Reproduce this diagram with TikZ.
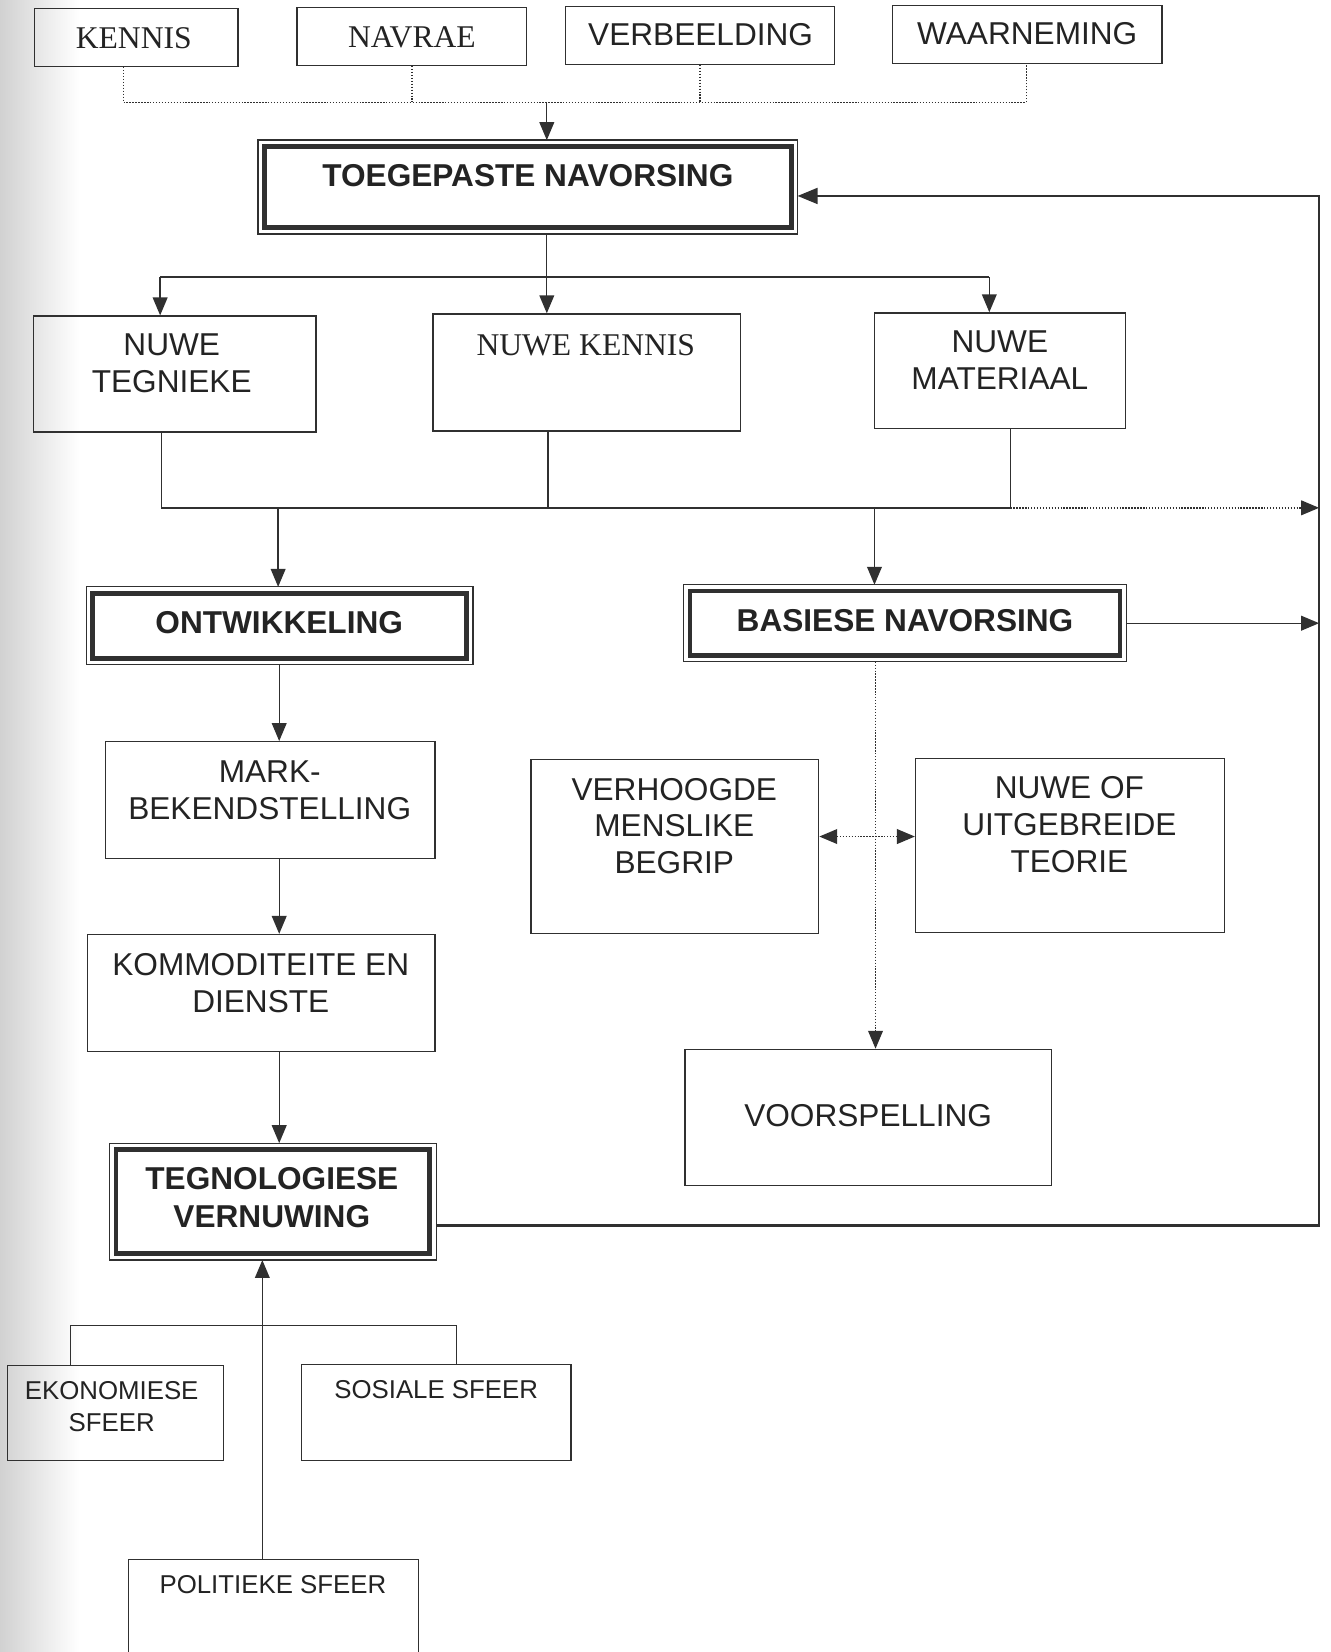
\documentclass[tikz,border=0pt]{standalone}
\usepackage{fontspec}
\setmainfont{Liberation Sans}
\newfontfamily\serifface{Liberation Serif}
\usetikzlibrary{arrows.meta,calc}
\definecolor{inkc}{HTML}{303030}
\definecolor{txtc}{HTML}{232323}
\begin{document}
\begin{tikzpicture}[x=1pt,y=-1pt,
  box/.style={draw=inkc, line width=1.3pt, inner sep=0pt},
  dbox/.style={draw=inkc, line width=4.5pt, inner sep=0pt, outer sep=6pt},
  thinrim/.style={draw=inkc, line width=1.2pt},
  lbl/.style={text=txtc, font=\fontsize{30}{35}\selectfont, align=center, inner sep=0pt},
  serlbl/.style={lbl, font=\serifface\fontsize{30}{35}\selectfont},
  slbl/.style={text=txtc, font=\fontsize{24.5}{30}\selectfont, align=center, inner sep=0pt},
  blbl/.style={text=txtc, font=\fontsize{30}{36}\selectfont\bfseries, align=center, inner sep=0pt},
  conn/.style={draw=inkc, line width=1.3pt},
  dconn/.style={conn, dash pattern=on 1.3pt off 1.5pt},
  arr/.style={conn, -{Triangle[length=17pt,width=14pt]}},
  darr/.style={dconn, -{Triangle[length=17pt,width=14pt]}},
  ddarr/.style={dconn, {Triangle[length=17pt,width=14pt]}-{Triangle[length=17pt,width=14pt]}},
  loopline/.style={draw=inkc, line width=2.3pt, -{Triangle[length=19pt,width=15pt]}}
]
\useasboundingbox (0,0) rectangle (1263,1568);
\clip (0,0) rectangle (1263,1568);
\fill[white] (0,0) rectangle (1263,1568);
\shade[left color=black!18, right color=white] (0,0) rectangle (75,1568);

% top row
\node[box, minimum width=193pt, minimum height=55pt] (kennis) at (129.5,35.5) {};
\node[serlbl] (kennis-t) at (127,36) {KENNIS};
\node[box, minimum width=218pt, minimum height=55pt] (navrae) at (391,34.5) {};
\node[serlbl] (navrae-t) at (391,35) {NAVRAE};
\node[box, minimum width=255pt, minimum height=55pt] (verb) at (664.5,33.5) {};
\node[lbl] (verb-t) at (665,33) {VERBEELDING};
\node[box, minimum width=256pt, minimum height=55pt] (waar) at (975,32.5) {};
\node[lbl] (waar-t) at (975,32) {WAARNEMING};

% toegepaste
\node[dbox, minimum width=500pt, minimum height=77pt] (toeg) at (501,177.5) {};
\draw[thinrim] (toeg.north west) rectangle (toeg.south east);
\node[blbl] (toeg-t) at (501,167) {TOEGEPASTE NAVORSING};

% second row
\node[box, minimum width=268pt, minimum height=110pt] (tegn) at (166,355) {};
\node[lbl] (tegn-t) at (163,345) {NUWE\\TEGNIEKE};
\node[box, minimum width=292pt, minimum height=111pt] (nken) at (557,353.5) {};
\node[serlbl] (nken-t) at (556,328) {NUWE KENNIS};
\node[box, minimum width=238pt, minimum height=110pt] (mat) at (949,352) {};
\node[lbl] (mat-t) at (949,342) {NUWE\\MATERIAAL};

% ontwikkeling / basiese
\node[dbox, minimum width=355pt, minimum height=62pt] (ontw) at (265.5,594) {};
\draw[thinrim] (ontw.north west) rectangle (ontw.south east);
\node[blbl] (ontw-t) at (265,591) {ONTWIKKELING};
\node[dbox, minimum width=408pt, minimum height=61pt] (bas) at (859,591.5) {};
\draw[thinrim] (bas.north west) rectangle (bas.south east);
\node[blbl] (bas-t) at (859,589) {BASIESE NAVORSING};

% left column
\node[box, minimum width=313pt, minimum height=111pt] (mark) at (256.5,759.5) {};
\node[lbl] (mark-t) at (256,750) {MARK-\\BEKENDSTELLING};
\node[box, minimum width=330pt, minimum height=111pt] (komm) at (248,942.5) {};
\node[lbl] (komm-t) at (247.5,933) {KOMMODITEITE EN\\DIENSTE};
\node[dbox, minimum width=298pt, minimum height=99pt] (tegv) at (259,1140.5) {};
\draw[thinrim] (tegv.north west) rectangle (tegv.south east);
\node[blbl] (tegv-t) at (258,1137) {TEGNOLOGIESE\\VERNUWING};

% right column
\node[box, minimum width=273pt, minimum height=165pt] (verh) at (640.5,803.5) {};
\node[lbl] (verh-t) at (640,784) {VERHOOGDE\\MENSLIKE\\BEGRIP};
\node[box, minimum width=293pt, minimum height=165pt] (teor) at (1015.5,802.5) {};
\node[lbl] (teor-t) at (1015,783) {NUWE OF\\UITGEBREIDE\\TEORIE};
\node[box, minimum width=348pt, minimum height=129pt] (voor) at (824,1060.5) {};
\node[lbl] (voor-t) at (824,1059) {VOORSPELLING};

% spheres
\node[box, minimum width=205pt, minimum height=90pt] (ekon) at (109.5,1341) {};
\node[slbl] (ekon-t) at (106,1335) {EKONOMIESE\\SFEER};
\node[box, minimum width=256pt, minimum height=91pt] (sos) at (414,1340.5) {};
\node[slbl] (sos-t) at (414,1319) {SOSIALE SFEER};
\node[box, minimum width=275pt, minimum height=120pt] (pol) at (259.5,1540) {};
\node[slbl] (pol-t) at (259,1504) {POLITIEKE SFEER};

% ---- connectors ----
\coordinate (tl) at (117,97);
\coordinate (tr) at (974,97);
\coordinate (tm) at (519,97);
\draw[dconn] (kennis.south -| tl) -- (tl) -- (tr) -- (waar.south -| tr);
\draw[dconn] (navrae.south) -- (navrae.south |- tl);
\draw[dconn] (verb.south) -- (verb.south |- tl);
\draw[arr] (tm) -- (toeg.north -| tm);

\coordinate (b1) at (152,263);
\coordinate (b2) at (519,263);
\coordinate (b3) at (939,263);
\draw[conn] (toeg.south -| b2) -- (b2);
\draw[conn] (b1) -- (b3);
\draw[arr] (b1) -- (tegn.north -| b1);
\draw[arr] (b2) -- (nken.north -| b2);
\draw[arr] (b3) -- (mat.north -| b3);

\coordinate (c1) at (153,482);
\coordinate (c2) at (520,482);
\coordinate (c3) at (959,482);
\coordinate (cd1) at (264,482);
\coordinate (cd2) at (830,482);
\coordinate (r1) at (1252,186);
\coordinate (r2) at (1252,1163);
\draw[conn] (tegn.south -| c1) -- (c1) -- (c3) -- (mat.south -| c3);
\draw[conn] (nken.south -| c2) -- (c2);
\draw[arr] (cd1) -- (ontw.north -| cd1);
\draw[arr] (cd2) -- (bas.north -| cd2);
\draw[darr] (c3) -- (c3 -| r1);
\draw[arr] (bas.east) -- (bas.east -| r1);
\draw[loopline] (tegv.east |- r2) -- (r2) -- (r1) -- (toeg.east |- r1);

\coordinate (lx) at (265,0);
\draw[arr] (ontw.south -| lx) -- (mark.north -| lx);
\draw[arr] (mark.south -| lx) -- (komm.north -| lx);
\draw[arr] (komm.south -| lx) -- (tegv.north -| lx);

\coordinate (dx) at (831,0);
\coordinate (dy) at (0,794);
\draw[darr] (bas.south -| dx) -- (voor.north -| dx);
\draw[ddarr] (verh.east |- dy) -- (teor.west |- dy);

\coordinate (px) at (249,0);
\coordinate (bl) at (67,1258);
\coordinate (br) at (433,1258);
\draw[arr] (pol.north -| px) -- (tegv.south -| px);
\draw[conn] (ekon.north -| bl) -- (bl) -- (br) -- (sos.north -| br);
\end{tikzpicture}
\end{document}
